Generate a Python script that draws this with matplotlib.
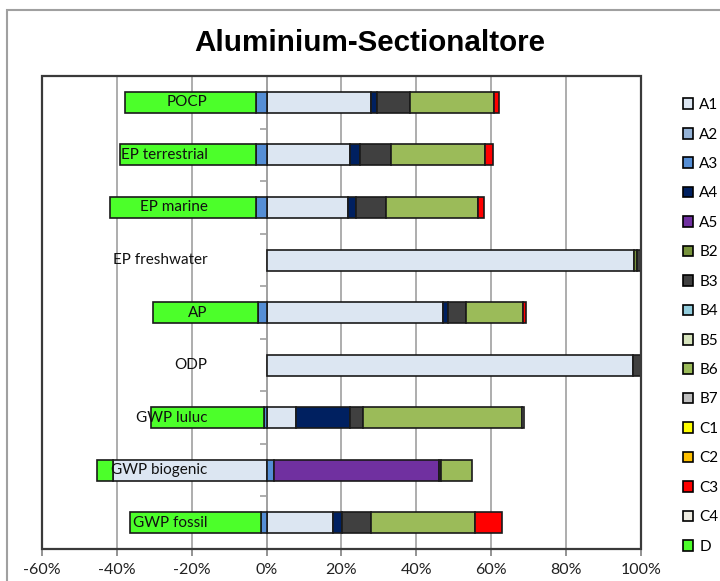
import numpy as np
import matplotlib
matplotlib.use("Agg")
import matplotlib.pyplot as plt
from matplotlib.patches import Patch, Rectangle
from matplotlib.ticker import FuncFormatter, FixedLocator

plt.rcParams['font.family'] = ['Lato', 'DejaVu Sans']

# impact categories, top to bottom
categories = ['POCP', 'EP terrestrial', 'EP marine', 'EP freshwater', 'AP',
              'ODP', 'GWP luluc', 'GWP biogenic', 'GWP fossil']

# share of each life-cycle module, in %
A1 = [27.8, 22.3, 21.7, 98.3, 47.2, 97.9, 8.0, -41.1, 17.7]
A2 = [0, 0, 0, 0, 0, 0, 0, 0, 0]
A3 = [-2.8, -2.8, -2.8, 0, -2.3, 0, -0.8, 2.1, -1.4]
A4 = [1.6, 2.7, 2.2, 0, 1.2, 0, 14.3, 0, 2.4]
A5 = [0, 0, 0, 0, 0, 0, 0, 44.0, 0]
B2 = [0, 0, 0, 0.6, 0, 0, 0, 0, 0]
B3 = [8.9, 8.3, 7.9, 1.1, 5.0, 2.1, 3.6, 0.5, 7.7]
B4 = [0, 0, 0, 0, 0, 0, 0, 0, 0]
B5 = [0, 0, 0, 0, 0, 0, 0, 0, 0]
B6 = [22.5, 25.2, 24.7, 0, 15.0, 0, 42.4, 8.2, 27.9]
B7 = [0, 0, 0, 0, 0, 0, 0.6, 0, 0]
C1 = [0, 0, 0, 0, 0, 0, 0, 0, 0]
C2 = [0, 0, 0, 0, 0, 0, 0, 0, 0]
C3 = [1.3, 2.0, 1.6, 0, 1.0, 0, 0, 0, 7.3]
C4 = [0, 0, 0, 0, 0, 0, 0, 0, 0]
D = [-35.0, -36.4, -38.9, 0, -28.1, 0, -30.0, -4.1, -35.2]

series = [('A1', A1, '#DCE6F2'), ('A2', A2, '#95B3D7'), ('A3', A3, '#558ED5'),
          ('A4', A4, '#002060'), ('A5', A5, '#7030A0'), ('B2', B2, '#77933C'),
          ('B3', B3, '#404040'), ('B4', B4, '#93CDDD'), ('B5', B5, '#D7E4BD'),
          ('B6', B6, '#9BBB59'), ('B7', B7, '#BFBFBF'), ('C1', C1, '#FFFF00'),
          ('C2', C2, '#FFC000'), ('C3', C3, '#FF0000'), ('C4', C4, '#EEECE1'),
          ('D', D, '#4CFF2A')]

fig = plt.figure(figsize=(7.2, 5.81), dpi=100)
ax = fig.add_axes([0.0583, 0.055, 0.8317, 0.814])

y = np.arange(len(categories))
pos_base = np.zeros(len(categories))
neg_base = np.zeros(len(categories))
for name, vals, color in series:
    v = np.array(vals, dtype=float)
    left = np.where(v >= 0, pos_base, neg_base)
    mask = v != 0
    ax.barh(y[mask], v[mask], left=left[mask], height=0.4, color=color,
            edgecolor='#1A1A1A', linewidth=1.2, zorder=3)
    pos_base += np.where(v > 0, v, 0)
    neg_base += np.where(v < 0, v, 0)

ax.set_xlim(-60, 100)
ax.set_ylim(len(categories) - 0.5, -0.5)
ax.set_xticks(np.arange(-60, 101, 20))
ax.xaxis.set_major_formatter(FuncFormatter(lambda v, p: '%d%%' % v))
ax.grid(axis='x', color='#A0A0A0', linewidth=1.2, zorder=0)

# category axis sits at 0
for s in ('top', 'right', 'bottom'):
    ax.spines[s].set_visible(False)
ax.spines['left'].set_position(('data', 0))
ax.spines['left'].set_color('#A0A0A0')
ax.spines['left'].set_linewidth(1.2)
ax.spines['left'].set_zorder(1)
ax.set_yticks([])
ax.yaxis.set_minor_locator(FixedLocator(np.arange(-0.5, len(categories), 1.0)))
ax.tick_params(axis='y', which='minor', length=5, color='#A0A0A0', width=1.2)
ax.tick_params(axis='x', length=5, color='#808080', width=1.2, labelsize=11.5,
               pad=5, labelcolor='#222222')

# plot-area frame
ax.add_patch(Rectangle((0, 0), 1, 1, transform=ax.transAxes, fill=False,
                       edgecolor='#3A3A3A', linewidth=1.6, zorder=5, clip_on=False))

for yi, name in zip(y, categories):
    ax.text(-15.8, yi, name, ha='right', va='center', fontsize=11,
            color='#111111', zorder=6)

fig.text(0.514, 0.926, 'Aluminium-Sectionaltore', ha='center', va='center',
         fontsize=21.3, fontweight='bold', family='Liberation Sans')

handles = [Patch(facecolor=c, edgecolor='black', linewidth=1.2, label=n)
           for n, _, c in series]
fig.legend(handles=handles, loc='upper left', bbox_to_anchor=(0.948, 0.831),
           frameon=False, fontsize=11, handlelength=0.7, handleheight=0.7,
           handletextpad=0.4, labelspacing=1.01, borderpad=0, borderaxespad=0)

# outer chart border
top = 1 - 10 / 581
fig.patches.append(Rectangle((7 / 720, -0.2), 1.2, top + 0.2, transform=fig.transFigure,
                             fill=False, edgecolor='#A0A0A0', linewidth=1.5))

fig.savefig('out.png', dpi=100)
